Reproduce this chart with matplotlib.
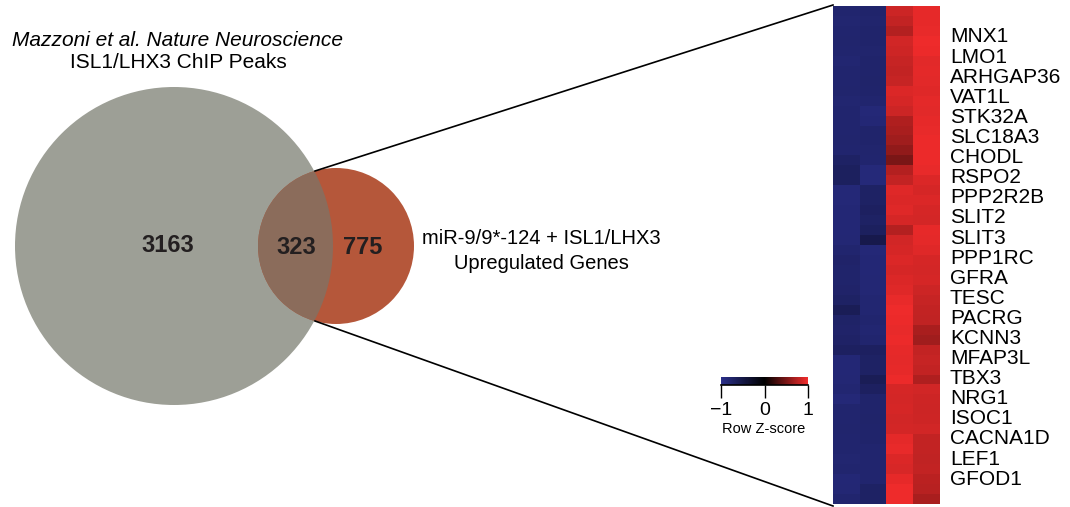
import numpy as np
import matplotlib.pyplot as plt
from matplotlib.patches import Circle
from matplotlib.colors import LinearSegmentedColormap, Normalize
from matplotlib.cm import ScalarMappable

plt.rcParams['font.family'] = ['Liberation Sans', 'DejaVu Sans']

# Venn counts
chip_only = 3163
overlap = 323
upreg_only = 775

genes = ["MNX1", "LMO1", "ARHGAP36", "VAT1L", "STK32A", "SLC18A3", "CHODL",
         "RSPO2", "PPP2R2B", "SLIT2", "SLIT3", "PPP1RC", "GFRA", "TESC",
         "PACRG", "KCNN3", "MFAP3L", "TBX3", "NRG1", "ISOC1", "CACNA1D",
         "LEF1", "GFOD1"]

# row z-scores, top to bottom, one list per sample column
ctrl_1 = [-0.80, -0.81, -0.80, -0.79, -0.80, -0.82, -0.80, -0.80, -0.79, -0.81,
          -0.80, -0.80, -0.80, -0.79, -0.80, -0.72, -0.68, -0.68, -0.86, -0.86,
          -0.85, -0.85, -0.85, -0.84, -0.80, -0.76, -0.78, -0.78, -0.76, -0.72,
          -0.62, -0.75, -0.76, -0.74, -0.70, -0.85, -0.85, -0.84, -0.82, -0.86,
          -0.80, -0.80, -0.79, -0.80, -0.80, -0.81, -0.80, -0.85, -0.84, -0.80]
ctrl_2 = [-0.78, -0.79, -0.78, -0.78, -0.79, -0.78, -0.78, -0.77, -0.78, -0.80,
          -0.86, -0.85, -0.78, -0.78, -0.79, -0.80, -0.88, -0.88, -0.72, -0.72,
          -0.70, -0.72, -0.68, -0.55, -0.86, -0.85, -0.85, -0.84, -0.84, -0.82,
          -0.82, -0.80, -0.82, -0.80, -0.70, -0.72, -0.72, -0.62, -0.70, -0.78,
          -0.78, -0.77, -0.78, -0.78, -0.80, -0.80, -0.80, -0.80, -0.72, -0.72]
mir_1 = [0.84, 0.80, 0.74, 0.86, 0.85, 0.82, 0.80, 0.82, 0.90, 0.88,
         0.84, 0.72, 0.70, 0.66, 0.60, 0.50, 0.74, 0.80, 0.92, 0.90,
         0.92, 0.88, 0.74, 0.86, 0.88, 0.90, 0.88, 0.90, 0.92, 0.96,
         0.98, 0.97, 0.96, 0.97, 0.95, 0.94, 0.95, 0.97, 0.88, 0.87,
         0.88, 0.86, 0.87, 0.94, 0.96, 0.90, 0.89, 0.95, 0.98, 0.98]
mir_2 = [0.95, 0.95, 0.96, 0.98, 0.97, 0.93, 0.94, 0.93, 0.92, 0.94,
         0.93, 0.95, 0.96, 0.97, 0.97, 0.97, 0.96, 0.90, 0.88, 0.90,
         0.88, 0.87, 0.95, 0.94, 0.92, 0.88, 0.87, 0.88, 0.84, 0.82,
         0.80, 0.79, 0.70, 0.66, 0.80, 0.82, 0.80, 0.72, 0.86, 0.85,
         0.84, 0.85, 0.86, 0.80, 0.80, 0.79, 0.80, 0.77, 0.75, 0.70]

W, H = 1070, 507
fig = plt.figure(figsize=(W / 100, H / 100), dpi=100)
ax = fig.add_axes([0, 0, 1, 1])
ax.set_xlim(0, W)
ax.set_ylim(H, 0)
ax.axis('off')

# venn circles
big = Circle((174, 246), 159, color='#9d9f96', lw=0)
small = Circle((336, 246), 78, color='#b5573a', lw=0)
mid = Circle((336, 246), 78, color='#8b6c5b', lw=0)
ax.add_patch(big)
ax.add_patch(small)
ax.add_patch(mid)
mid.set_clip_path(big)

num_style = dict(fontsize=17, fontweight='bold', color='#231f20', ha='center', va='center')
ax.text(168, 246, str(chip_only), **num_style)
ax.text(296, 247, str(overlap), **num_style)
ax.text(363, 247, str(upreg_only), **num_style)

ax.text(178, 40, "Mazzoni et al. Nature Neuroscience", fontsize=15, style='italic',
        ha='center', va='center')
ax.text(178, 63, "ISL1/LHX3 ChIP Peaks", fontsize=15, ha='center', va='center')
ax.text(541, 251, "miR-9/9*-124 + ISL1/LHX3\nUpregulated Genes", fontsize=14.5,
        ha='center', va='center', linespacing=1.4)

# zoom lines to heatmap
ax.plot([315, 833], [171, 5], color='black', lw=1.2)
ax.plot([315, 833], [321, 506], color='black', lw=1.2)

# heatmap
cmap = LinearSegmentedColormap.from_list('bkr', ['#2a2f8a', '#000000', '#f22c2c'])
Z = np.column_stack([ctrl_1, ctrl_2, mir_1, mir_2])
hm = fig.add_axes([833 / W, 1 - 504 / H, 107 / W, 498 / H])
hm.imshow(Z, aspect='auto', cmap=cmap, vmin=-1, vmax=1, interpolation='nearest')
hm.axis('off')

for i, g in enumerate(genes):
    ax.text(950, 37 + i * 20.1, g, fontsize=15, ha='left', va='center')

# colour key
cax = fig.add_axes([721 / W, 1 - 385 / H, 87 / W, 8 / H])
cb = fig.colorbar(ScalarMappable(Normalize(-1, 1), cmap), cax=cax,
                  orientation='horizontal', ticks=[-1, 0, 1])
cb.outline.set_visible(False)
cax.tick_params(length=9, width=1, labelsize=14, pad=3)
cax.axhline(0, color='black', lw=1.2, clip_on=False)
ax.text(764, 429, "Row Z-score", fontsize=10.5, ha='center', va='center')

fig.savefig('out.png', dpi=100)
